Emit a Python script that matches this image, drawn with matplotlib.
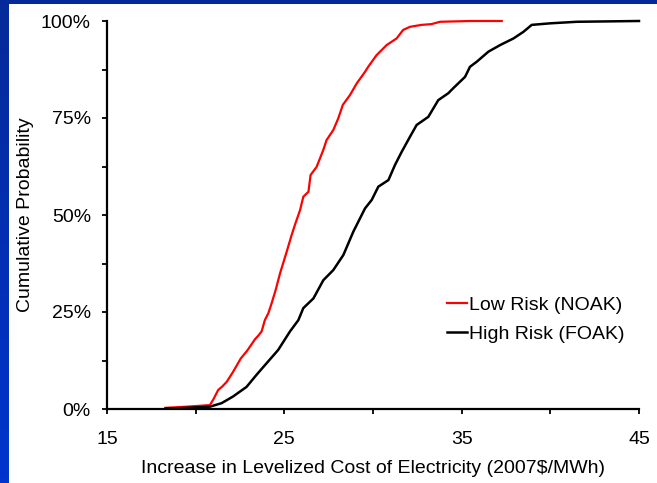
import matplotlib
matplotlib.use("Agg")
import matplotlib.pyplot as plt
import numpy as np
from matplotlib.patches import Rectangle
from matplotlib.colors import LinearSegmentedColormap

plt.rcParams['font.family'] = ['Liberation Sans', 'DejaVu Sans']

# Low Risk (NOAK) cumulative distribution: cost increase ($/MWh), cumulative probability (%)
low_x = [18.3, 19.5, 20.8, 21.0, 21.27, 21.5, 21.75, 22.1, 22.54, 22.9, 23.35, 23.55, 23.72, 23.9,
         24.1, 24.28, 24.5, 24.76, 25.13, 25.41, 25.6, 25.89, 26.07, 26.36, 26.48, 26.82, 27.2,
         27.38, 27.76, 28.04, 28.3, 28.7, 29.08, 29.55, 29.73, 30.2, 30.77, 31.33, 31.7, 32.09,
         32.74, 33.3, 33.78, 35.5, 37.26]
low_y = [0.3, 0.6, 1.0, 2.5, 4.9, 5.8, 7.0, 9.5, 13.0, 15.0, 18.0, 19.0, 20.0, 22.9,
         24.7, 27.2, 30.5, 35.0, 40.5, 44.8, 47.5, 51.3, 54.7, 56.0, 60.3, 62.4, 66.8,
         69.3, 71.9, 74.9, 78.4, 80.9, 83.9, 86.9, 88.2, 91.2, 93.8, 95.5, 97.7, 98.5,
         99.0, 99.2, 99.8, 100.0, 100.0]

# High Risk (FOAK) cumulative distribution
high_x = [18.3, 19.5, 20.8, 21.46, 22.1, 22.87, 23.43, 24.0, 24.65, 25.32, 25.79, 26.07, 26.64,
          27.2, 27.76, 28.33, 28.89, 29.55, 29.93, 30.3, 30.87, 31.24, 31.62, 32.09, 32.46,
          33.12, 33.68, 34.25, 34.53, 35.19, 35.47, 35.85, 36.51, 37.17, 37.92, 38.48, 38.95,
          39.99, 41.5, 45.0]
high_y = [0.1, 0.3, 0.6, 1.5, 3.2, 5.7, 8.8, 11.8, 15.2, 20.0, 22.9, 26.0, 28.5,
          33.2, 35.8, 39.7, 45.7, 51.7, 53.9, 57.3, 59.0, 62.9, 66.3, 70.2, 73.2,
          75.3, 79.6, 81.4, 82.7, 85.6, 88.2, 89.5, 92.1, 93.8, 95.5, 97.2, 99.0,
          99.4, 99.8, 100.0]

x_ticks = [15, 25, 35, 45]
y_ticks = [0, 25, 50, 75, 100]
y_tick_labels = ['0%', '25%', '50%', '75%', '100%']

W, H = 657, 483
FS = 14
fig = plt.figure(figsize=(W / 100, H / 100), dpi=100)
fig.patch.set_facecolor('white')

# blue slide border (left gradient strip and top strip)
grad = np.linspace(0, 1, 100).reshape(-1, 1)
ax_bg = fig.add_axes([0, 0, 9 / W, 1])
cmap = LinearSegmentedColormap.from_list('b', ['#0034cc', '#062a99'])
ax_bg.imshow(grad, aspect='auto', cmap=cmap, origin='lower', extent=[0, 1, 0, 1])
ax_bg.set_axis_off()
fig.patches.append(Rectangle((0, 1 - 4 / H), 1, 4 / H, transform=fig.transFigure,
                             facecolor='#04299a', edgecolor='none', zorder=5))

ax = fig.add_axes([107 / W, 1 - 409 / H, (639 - 107) / W, (409 - 21) / H])
ax.plot(low_x, low_y, color='#ff0000', lw=1.6, label='Low Risk (NOAK)', clip_on=False)
ax.plot(high_x, high_y, color='black', lw=1.8, label='High Risk (FOAK)', clip_on=False)

ax.set_xlim(15, 45)
ax.set_ylim(0, 100)
ax.set_xticks(x_ticks)
ax.set_xticks(np.arange(15, 46, 5), minor=True)
ax.set_yticks(y_ticks)
ax.set_yticklabels(y_tick_labels)
ax.set_yticks(np.arange(0, 101, 12.5), minor=True)
for s in ['top', 'right']:
    ax.spines[s].set_visible(False)
for s in ['left', 'bottom']:
    ax.spines[s].set_linewidth(1.6)
ax.tick_params(which='both', direction='out', length=3.6, width=1.3, labelsize=FS)
ax.tick_params(axis='y', pad=8)
ax.tick_params(axis='x', pad=12)

ax.set_xlabel('Increase in Levelized Cost of Electricity (2007$/MWh)', fontsize=FS, labelpad=9)
ax.set_ylabel('Cumulative Probability', fontsize=FS, labelpad=5)

leg = ax.legend(loc='lower right', bbox_to_anchor=(0.994, 0.14), frameon=False, fontsize=FS,
                handlelength=1.0, handletextpad=0.1, labelspacing=0.6, borderaxespad=0.2)

fig.savefig('out.png', dpi=100, facecolor='white')
